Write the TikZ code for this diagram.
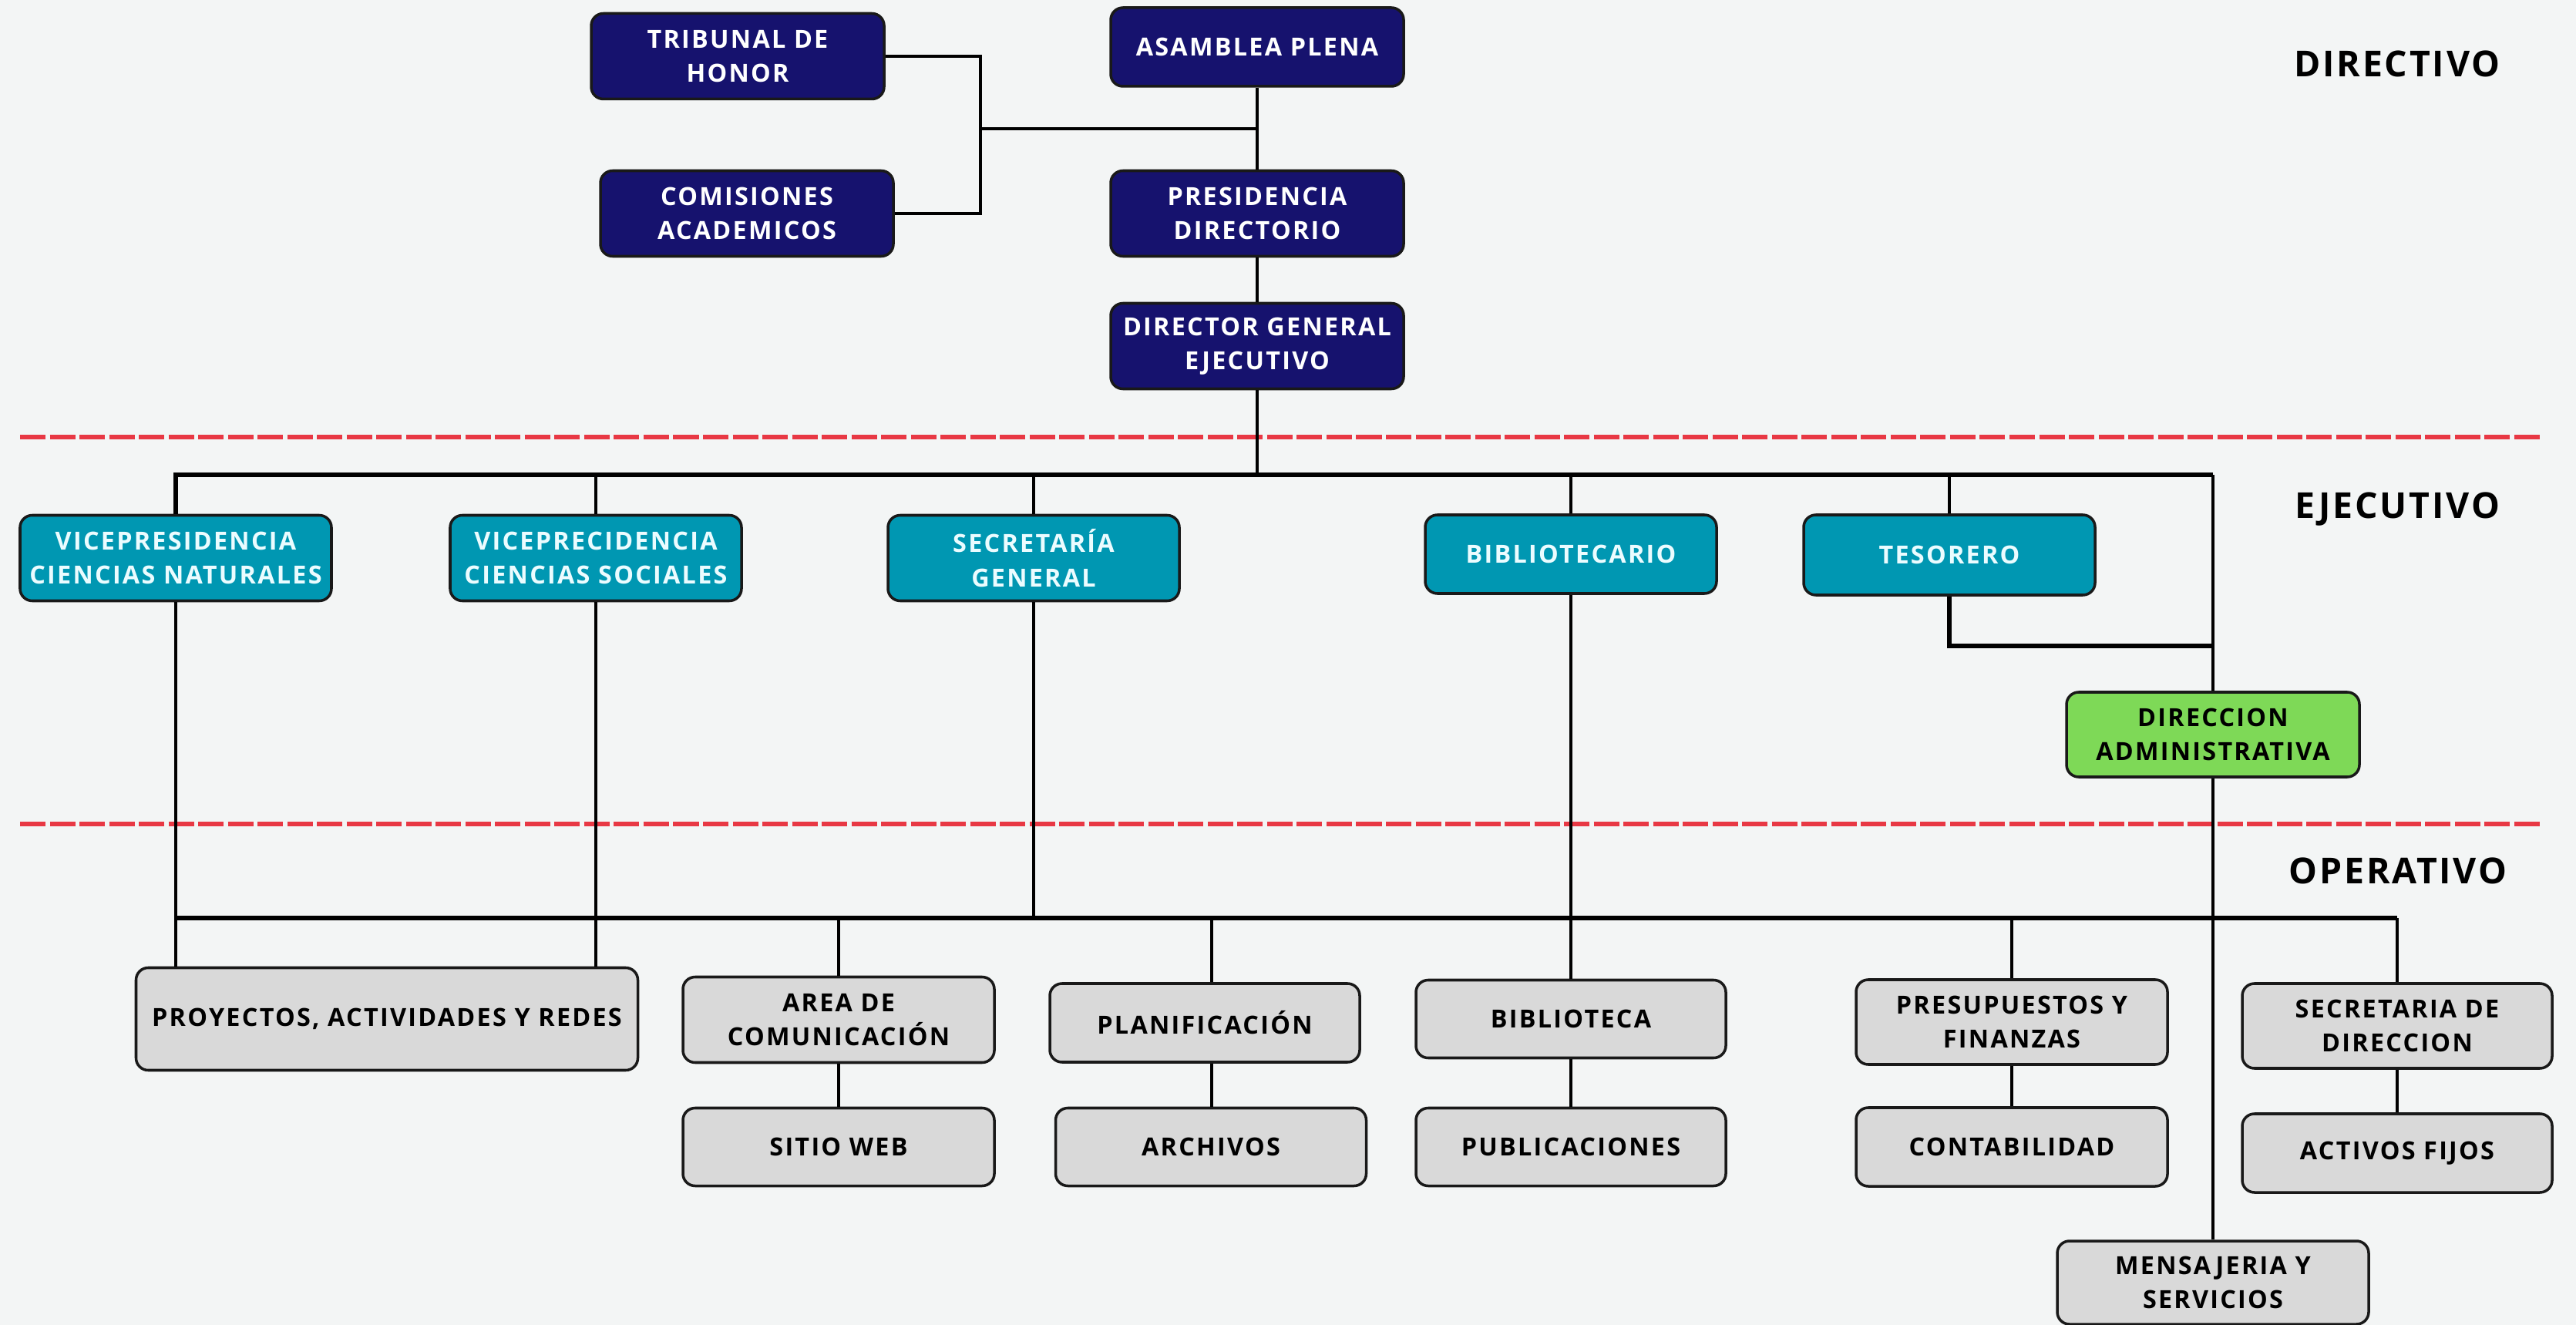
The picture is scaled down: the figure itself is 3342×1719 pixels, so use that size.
\documentclass[tikz,border=0pt]{standalone}
\usepackage{fontspec}
\setmainfont{Open Sans}
\newfontfamily\boxfont[LetterSpace=7]{Open Sans}
\newfontfamily\lvlfont[LetterSpace=6]{Open Sans}
\definecolor{bgc}{RGB}{243,245,245}
\definecolor{navyc}{RGB}{22,18,110}
\definecolor{tealc}{RGB}{0,151,178}
\definecolor{greenc}{RGB}{126,217,87}
\definecolor{grayc}{RGB}{217,217,217}
\definecolor{redc}{RGB}{232,56,68}
\definecolor{txtteal}{RGB}{235,252,255}
\tikzset{
  base/.style={rectangle, rounded corners=4.5pt, draw=black!90, line width=1pt,
    align=center, inner sep=0pt, font=\boxfont\bfseries\fontsize{9.2}{12.6}\selectfont},
  navybox/.style={base, fill=navyc, text=white},
  tealbox/.style={base, fill=tealc, text=txtteal},
  greenbox/.style={base, fill=greenc, text=black},
  graybox/.style={base, fill=grayc, text=black},
  sz/.style 2 args={minimum width=#1*0.01cm, minimum height=#2*0.01cm},
  conn/.style={line width=1.3pt, black},
  bus/.style={line width=1.55pt, black},
  sep/.style={line width=1.6pt, redc, dash pattern=on 0.33cm off 0.055cm},
  lvl/.style={font=\lvlfont\bfseries\fontsize{13.2}{15}\selectfont, text=black, inner sep=0pt}
}
\begin{document}
\begin{tikzpicture}[x=0.01cm,y=-0.01cm]
\fill[bgc] (0,0) rectangle (3342,1719);
\useasboundingbox (0,0) rectangle (3342,1719);

% separators
\draw[sep] (26,567) -- (3300,567);
\draw[sep] (26,1069) -- (3300,1069);

% level labels
\node[lvl] (ldir) at (3110,83) {DIRECTIVO};
\node[lvl] (leje) at (3110,661) {EJECUTIVO};
\node[lvl] (lope) at (3111,1130) {OPERATIVO};

% directive
\node[navybox, sz={380}{111}] (trib) at (957,73) {TRIBUNAL DE\\HONOR};
\node[navybox, sz={380}{102}] (asam) at (1631,61) {ASAMBLEA PLENA};
\node[navybox, sz={380}{111}] (comi) at (969,277) {COMISIONES\\ACADEMICOS};
\node[navybox, sz={380}{111}] (pres) at (1631,277) {PRESIDENCIA\\DIRECTORIO};
\node[navybox, sz={380}{111}] (dirg) at (1631,449) {DIRECTOR GENERAL\\EJECUTIVO};

% executive
\node[tealbox, sz={404}{111}] (vpn) at (228,724) {VICEPRESIDENCIA\\CIENCIAS NATURALES};
\node[tealbox, sz={378}{111}] (vps) at (773,724) {VICEPRECIDENCIA\\CIENCIAS SOCIALES};
\node[tealbox, sz={378}{111}] (secg) at (1341,724) {SECRETARÍA\\GENERAL};
\node[tealbox, sz={378}{102}] (bibt) at (2038,719) {BIBLIOTECARIO};
\node[tealbox, sz={378}{104}] (teso) at (2529,720) {TESORERO};
\node[greenbox, sz={380}{110}] (dadm) at (2871,953) {DIRECCION\\ADMINISTRATIVA};

% operative
\node[graybox, sz={651}{133}] (proy) at (502,1322) {PROYECTOS, ACTIVIDADES Y REDES};
\node[graybox, sz={404}{111}] (area) at (1088,1323) {AREA DE\\COMUNICACIÓN};
\node[graybox, sz={404}{101}] (web) at (1088,1488) {SITIO WEB};
\node[graybox, sz={402}{102}] (plan) at (1563,1327) {PLANIFICACIÓN};
\node[graybox, sz={403}{101}] (arch) at (1571,1488) {ARCHIVOS};
\node[graybox, sz={402}{101}] (bibl) at (2038,1322) {BIBLIOTECA};
\node[graybox, sz={402}{101}] (publ) at (2038,1488) {PUBLICACIONES};
\node[graybox, sz={404}{110}] (psup) at (2610,1326) {PRESUPUESTOS Y\\FINANZAS};
\node[graybox, sz={404}{102}] (cont) at (2610,1488) {CONTABILIDAD};
\node[graybox, sz={402}{110}] (secd) at (3110,1331) {SECRETARIA DE\\DIRECCION};
\node[graybox, sz={402}{102}] (actf) at (3110,1496) {ACTIVOS FIJOS};
\node[graybox, sz={404}{108}] (mens) at (2871,1664) {MENSAJERIA Y\\SERVICIOS};

% junction coordinates
\coordinate (j1) at (1272,167);
\coordinate (eb) at (0,616);
\coordinate (tj) at (2871,838);
\coordinate (ob) at (0,1191);
\coordinate (pj) at (1572,1191);

% directive connectors
\draw[conn] (trib.east) -| (j1) |- (comi.east);
\draw[conn] (j1) -- (j1 -| asam.south);
\draw[conn] (asam.south) -- (pres.north);
\draw[conn] (pres.south) -- (dirg.north);
\draw[conn] (dirg.south) -- (dirg.south |- eb);

% executive bus
\draw[bus] (vpn.north) |- (dadm.north |- eb);
\draw[conn] (dadm.north |- eb) -- (dadm.north);
\draw[conn] (vps.north) -- (vps.north |- eb);
\draw[conn] (secg.north) -- (secg.north |- eb);
\draw[conn] (bibt.north) -- (bibt.north |- eb);
\draw[conn] (teso.north) -- (teso.north |- eb);
\draw[bus] (teso.south) |- (tj);

% operative bus
\draw[bus] (vpn.south |- ob) -- (secd.north |- ob);
\draw[conn] (vpn.south) -- (vpn.south |- proy.north);
\draw[conn] (vps.south) -- (vps.south |- proy.north);
\draw[conn] (secg.south) -- (secg.south |- ob);
\draw[conn] (bibt.south) -- (bibl.north);
\draw[conn] (dadm.south) -- (mens.north);
\draw[conn] (area.north |- ob) -- (area.north);
\draw[conn] (pj) -- (pj |- plan.north);
\draw[conn] (psup.north |- ob) -- (psup.north);
\draw[conn] (secd.north |- ob) -- (secd.north);

% second-level operative
\draw[conn] (area.south) -- (web.north);
\draw[conn] (pj |- plan.south) -- (pj |- arch.north);
\draw[conn] (bibl.south) -- (publ.north);
\draw[conn] (psup.south) -- (cont.north);
\draw[conn] (secd.south) -- (actf.north);
\end{tikzpicture}
\end{document}
